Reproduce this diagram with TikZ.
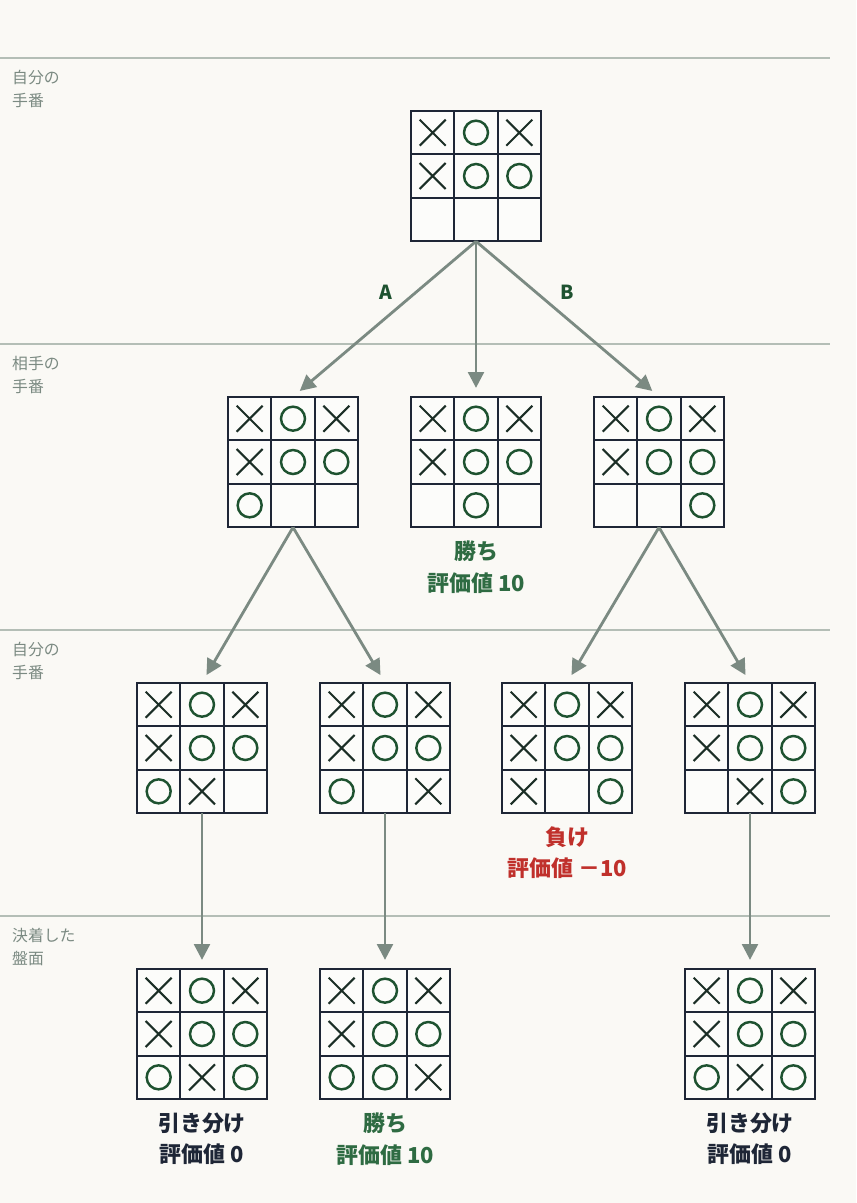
\documentclass[tikz,border=0pt]{standalone}
\usepackage{fontspec}
\setmainfont{Noto Sans CJK JP}
\usetikzlibrary{arrows.meta}
\definecolor{bg}{HTML}{FAF9F5}
\definecolor{rule}{HTML}{B4BEB6}
\definecolor{arr}{HTML}{7B8A82}
\definecolor{ink}{HTML}{1E2636}
\definecolor{xink}{HTML}{1B2E26}
\definecolor{oink}{HTML}{1E5230}
\definecolor{win}{HTML}{2E6B42}
\definecolor{lose}{HTML}{C0302B}
\tikzset{>={Triangle[width=9pt,length=9pt]},
  board/.style={minimum size=2.6cm,inner sep=0pt,draw=none},
  gridline/.style={draw=ink,line width=1.2pt},
  link/.style={draw=arr,line width=1.6pt,->,shorten >=5pt},
  turn/.style={text=arr,font=\fontsize{9}{13}\selectfont,align=left,anchor=north west},
  verdict/.style={font=\bfseries\fontsize{12.5}{18}\selectfont,align=center}}
\newcommand\boardat[4]{%
  \begin{scope}[shift={(#1,#2)}]
  \node[board] (#3) at (0,0) {};
  \fill[white!50!bg] (-65,-65) rectangle (65,65);
  \foreach \m [count=\i from 0] in {#4} {
    \pgfmathsetmacro\cx{(mod(\i,3)-1)*43.33}
    \pgfmathsetmacro\cy{(int(\i/3)-1)*43.33}
    \if\m X
      \draw[xink,line width=1.2pt] (\cx-13,\cy-13) -- (\cx+13,\cy+13) (\cx-13,\cy+13) -- (\cx+13,\cy-13);
    \fi
    \if\m O
      \draw[oink,line width=1.4pt] (\cx,\cy) circle (12);
    \fi
  }
  \draw[gridline] (-65,-65) rectangle (65,65);
  \draw[gridline] (-21.67,-65) -- (-21.67,65) (21.67,-65) -- (21.67,65)
    (-65,-21.67) -- (65,-21.67) (-65,21.67) -- (65,21.67);
  \end{scope}}

\begin{document}
\begin{tikzpicture}[x=0.02cm,y=-0.02cm]
\fill[bg] (0,0) rectangle (856,1203);
\useasboundingbox (0,0) rectangle (856,1203);
% rows
\foreach \y in {58,344,630,916}
  \draw[rule,line width=1pt] (0,\y) -- (830,\y);
\node[turn] (t1) at (6,64) {自分の\\手番};
\node[turn] (t2) at (6,350) {相手の\\手番};
\node[turn] (t3) at (6,636) {自分の\\手番};
\node[turn] (t4) at (6,922) {決着した\\盤面};
% boards
\boardat{476}{176}{root}{X,O,X,X,O,O,E,E,E}
\boardat{293}{462}{a}{X,O,X,X,O,O,O,E,E}
\boardat{476}{462}{m}{X,O,X,X,O,O,E,O,E}
\boardat{659}{462}{b}{X,O,X,X,O,O,E,E,O}
\boardat{202}{748}{aa}{X,O,X,X,O,O,O,X,E}
\boardat{385}{748}{ab}{X,O,X,X,O,O,O,E,X}
\boardat{567}{748}{ba}{X,O,X,X,O,O,X,E,O}
\boardat{750}{748}{bb}{X,O,X,X,O,O,E,X,O}
\boardat{202}{1034}{aaa}{X,O,X,X,O,O,O,X,O}
\boardat{385}{1034}{aba}{X,O,X,X,O,O,O,O,X}
\boardat{750}{1034}{bba}{X,O,X,X,O,O,O,X,O}
% moves
\draw[link] (root.south) -- node[pos=.42,above left,text=oink,font=\bfseries\fontsize{11}{13}\selectfont] (la) {A} (a.north);
\draw[link] (root.south) -- (m.north);
\draw[link] (root.south) -- node[pos=.42,above right,text=oink,font=\bfseries\fontsize{11}{13}\selectfont] (lb) {B} (b.north);
\draw[link] (a.south) -- (aa.north);
\draw[link] (a.south) -- (ab.north);
\draw[link] (b.south) -- (ba.north);
\draw[link] (b.south) -- (bb.north);
\draw[link] (aa.south) -- (aaa.north);
\draw[link] (ab.south) -- (aba.north);
\draw[link] (bb.south) -- (bba.north);
% verdicts
\node[verdict,text=win,below=4pt] (vm) at (m.south) {勝ち\\評価値 10};
\node[verdict,text=lose,below=4pt] (vba) at (ba.south) {負け\\評価値 －10};
\node[verdict,text=ink,below=4pt] (vaaa) at (aaa.south) {引き分け\\評価値 0};
\node[verdict,text=win,below=4pt] (vaba) at (aba.south) {勝ち\\評価値 10};
\node[verdict,text=ink,below=4pt] (vbba) at (bba.south) {引き分け\\評価値 0};
\end{tikzpicture}
\end{document}
